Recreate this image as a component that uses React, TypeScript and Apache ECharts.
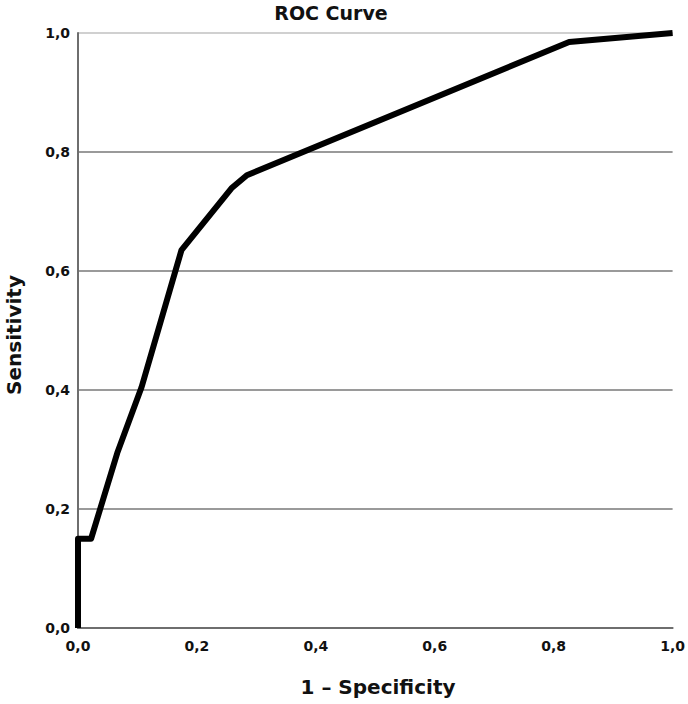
import React, { useEffect, useRef } from "react";
import * as echarts from "echarts";

const fpr = [0, 0, 0.022, 0.066, 0.107, 0.174, 0.258, 0.284, 0.826, 1];
const tpr = [0, 0.15, 0.15, 0.294, 0.405, 0.635, 0.739, 0.761, 0.985, 1];
const titleText = "ROC Curve";
const xName = "1 – Specificity";
const yName = "Sensitivity";

const FONT = "'DejaVu Sans', 'Open Sans', sans-serif";
const fmt = (v: number) => v.toFixed(1).replace(".", ",");

export default function App() {
  const ref = useRef<HTMLDivElement>(null);
  useEffect(() => {
    if (!ref.current) return;
    const chart = echarts.init(ref.current, undefined, { renderer: "svg" });
    chart.setOption({
      animation: false,
      backgroundColor: "#ffffff",
      grid: { left: 78, right: 14, top: 33, bottom: 76 },
      xAxis: {
        type: "value",
        min: 0,
        max: 1,
        interval: 0.2,
        axisLine: { show: true, onZero: false, lineStyle: { color: "#6e6e6e", width: 2 } },
        axisTick: { show: false },
        splitLine: { show: false },
        axisLabel: {
          formatter: fmt,
          color: "#111",
          fontFamily: FONT,
          fontWeight: "bold",
          fontSize: 14,
          margin: 11,
        },
      },
      yAxis: {
        type: "value",
        min: 0,
        max: 1,
        interval: 0.2,
        axisLine: { show: true, onZero: false, lineStyle: { color: "#6e6e6e", width: 2 } },
        axisTick: { show: false },
        splitLine: {
          show: true,
          lineStyle: {
            color: ["#9a9a9a", "#9a9a9a", "#9a9a9a", "#9a9a9a", "#9a9a9a", "#d0d0d0"],
            width: 2,
          },
        },
        axisLabel: {
          formatter: fmt,
          color: "#111",
          fontFamily: FONT,
          fontWeight: "bold",
          fontSize: 14,
          margin: 8,
        },
      },
      series: [
        {
          type: "line",
          data: fpr.map((x, i) => [x, tpr[i]]),
          symbol: "none",
          lineStyle: { color: "#000", width: 6, join: "round" },
        },
      ],
      graphic: [
        {
          type: "text",
          x: 331,
          y: 13,
          style: {
            text: titleText,
            font: `bold 19px ${FONT}`,
            fill: "#111",
            align: "center",
            verticalAlign: "middle",
          },
        },
        {
          type: "text",
          x: 378,
          y: 687,
          style: {
            text: xName,
            font: `bold 20px ${FONT}`,
            fill: "#111",
            align: "center",
            verticalAlign: "middle",
          },
        },
        {
          type: "text",
          x: 14,
          y: 335,
          rotation: Math.PI / 2,
          style: {
            text: yName,
            font: `bold 20px ${FONT}`,
            fill: "#111",
            align: "center",
            verticalAlign: "middle",
          },
        },
      ],
    });
    return () => chart.dispose();
  }, []);
  return <div ref={ref} style={{ width: 688, height: 704, position: "absolute", left: 0, top: 0 }} />;
}
